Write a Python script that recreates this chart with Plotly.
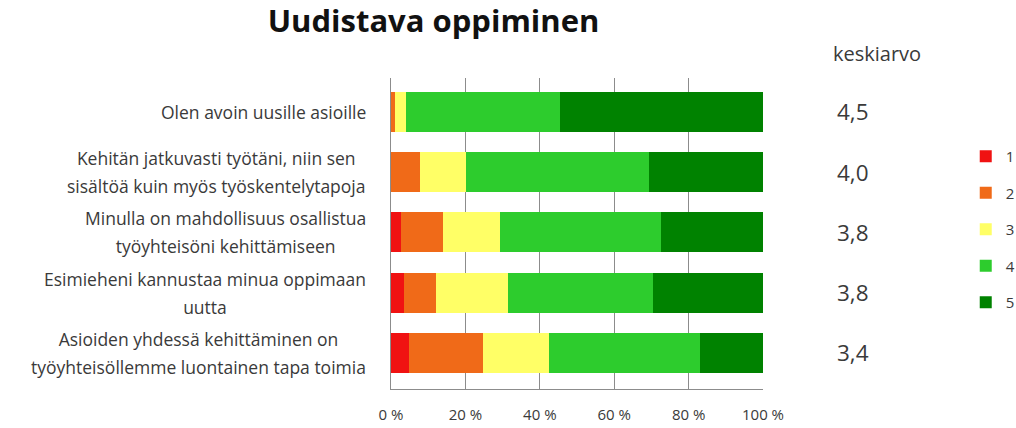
import plotly.graph_objects as go

categories = [
    "Olen avoin uusille asioille",
    "Kehitän jatkuvasti työtäni, niin sen\nsisältöä kuin myös työskentelytapoja",
    "Minulla on mahdollisuus osallistua\ntyöyhteisöni kehittämiseen",
    "Esimieheni kannustaa minua oppimaan\nuutta",
    "Asioiden yhdessä kehittäminen on\ntyöyhteisöllemme luontainen tapa toimia",
]
short_ids = ["q1", "q2", "q3", "q4", "q5"]
series_names = ["1", "2", "3", "4", "5"]
values_1 = [0.0, 0.0, 2.6, 3.5, 4.8]
values_2 = [1.0, 7.8, 11.5, 8.5, 20.0]
values_3 = [3.0, 12.4, 15.1, 19.4, 17.7]
values_4 = [41.5, 49.2, 43.3, 38.9, 40.6]
values_5 = [54.5, 30.6, 27.5, 29.7, 16.9]
averages = ["4,5", "4,0", "3,8", "3,8", "3,4"]
tick_values = [0, 20, 40, 60, 80, 100]
tick_labels = ["0 %", "20 %", "40 %", "60 %", "80 %", "100 %"]
colors = ["#f01212", "#f06a18", "#ffff66", "#2dcc2d", "#008200"]

all_values = [values_1, values_2, values_3, values_4, values_5]
TEXT_COL = "#3a3a3a"

fig = go.Figure()
for name, vals, col in zip(series_names, all_values, colors):
    fig.add_trace(go.Bar(
        y=short_ids, x=vals, name=name, orientation="h",
        marker=dict(color=col, line=dict(width=0)),
        legendgroup=name, hoverinfo="x+name",
    ))

LABEL_FONT = dict(family="Open Sans", size=17.5, color=TEXT_COL)
annotations = []
for cid, cat in zip(short_ids, categories):
    lines = cat.split("\n")
    if len(lines) == 1:
        annotations.append(dict(xref="paper", yref="y", x=-0.062, y=cid, text=lines[0],
                                xanchor="right", yanchor="middle", showarrow=False,
                                align="center", font=LABEL_FONT))
    else:
        for i in range(len(lines)):
            parts = []
            for j, ln in enumerate(lines):
                c = TEXT_COL if j == i else "rgba(0,0,0,0)"
                parts.append("<span style='color:" + c + "'>" + ln + "</span>")
            annotations.append(dict(xref="paper", yref="y", x=-0.062, y=cid,
                                    text="<br>".join(parts),
                                    xanchor="right", yanchor="middle", showarrow=False,
                                    align="center", font=LABEL_FONT,
                                    yshift=2.5 if i == 0 else -2.5))

for cid, avg in zip(short_ids, averages):
    annotations.append(dict(xref="paper", yref="y", x=1.1935, y=cid, text=avg,
                            xanchor="left", yanchor="middle", showarrow=False,
                            font=dict(family="Open Sans", size=22.5, color=TEXT_COL)))

annotations.append(dict(xref="paper", yref="paper", x=1.3065, y=1.08, text="keskiarvo",
                        xanchor="center", yanchor="middle", showarrow=False,
                        font=dict(family="Open Sans", size=20, color=TEXT_COL)))

fig.update_layout(
    width=1016, height=428,
    margin=dict(l=391, r=253, t=78, b=39, autoexpand=False),
    paper_bgcolor="white", plot_bgcolor="white",
    barmode="stack", bargap=0.336,
    title=dict(text="<b>Uudistava oppiminen</b>", xref="container", yref="container",
               x=0.4267, y=0.950, xanchor="center", yanchor="middle",
               font=dict(family="Open Sans", size=31, color="#111111")),
    xaxis=dict(range=[0, 100], tickvals=tick_values, ticktext=tick_labels,
               showgrid=True, gridcolor="#8c8c8c", gridwidth=1, zeroline=False,
               showline=True, linecolor="#8c8c8c", linewidth=1, ticks="",
               ticklabelstandoff=12,
               tickfont=dict(family="Open Sans", size=15, color=TEXT_COL)),
    yaxis=dict(categoryorder="array", categoryarray=short_ids,
               range=[4.6, -0.564], showticklabels=False, showgrid=False,
               showline=True, linecolor="#8c8c8c", linewidth=1, zeroline=False),
    legend=dict(x=1.545, y=0.8006, xanchor="left", yanchor="top",
                traceorder="grouped", tracegroupgap=14,
                font=dict(family="Open Sans", size=15, color=TEXT_COL),
                bgcolor="rgba(0,0,0,0)"),
    annotations=annotations,
    showlegend=True,
)

fig.write_html("out.html", config={"displayModeBar": False},
               post_script="document.body.style.margin='0';document.body.style.padding='0';")
